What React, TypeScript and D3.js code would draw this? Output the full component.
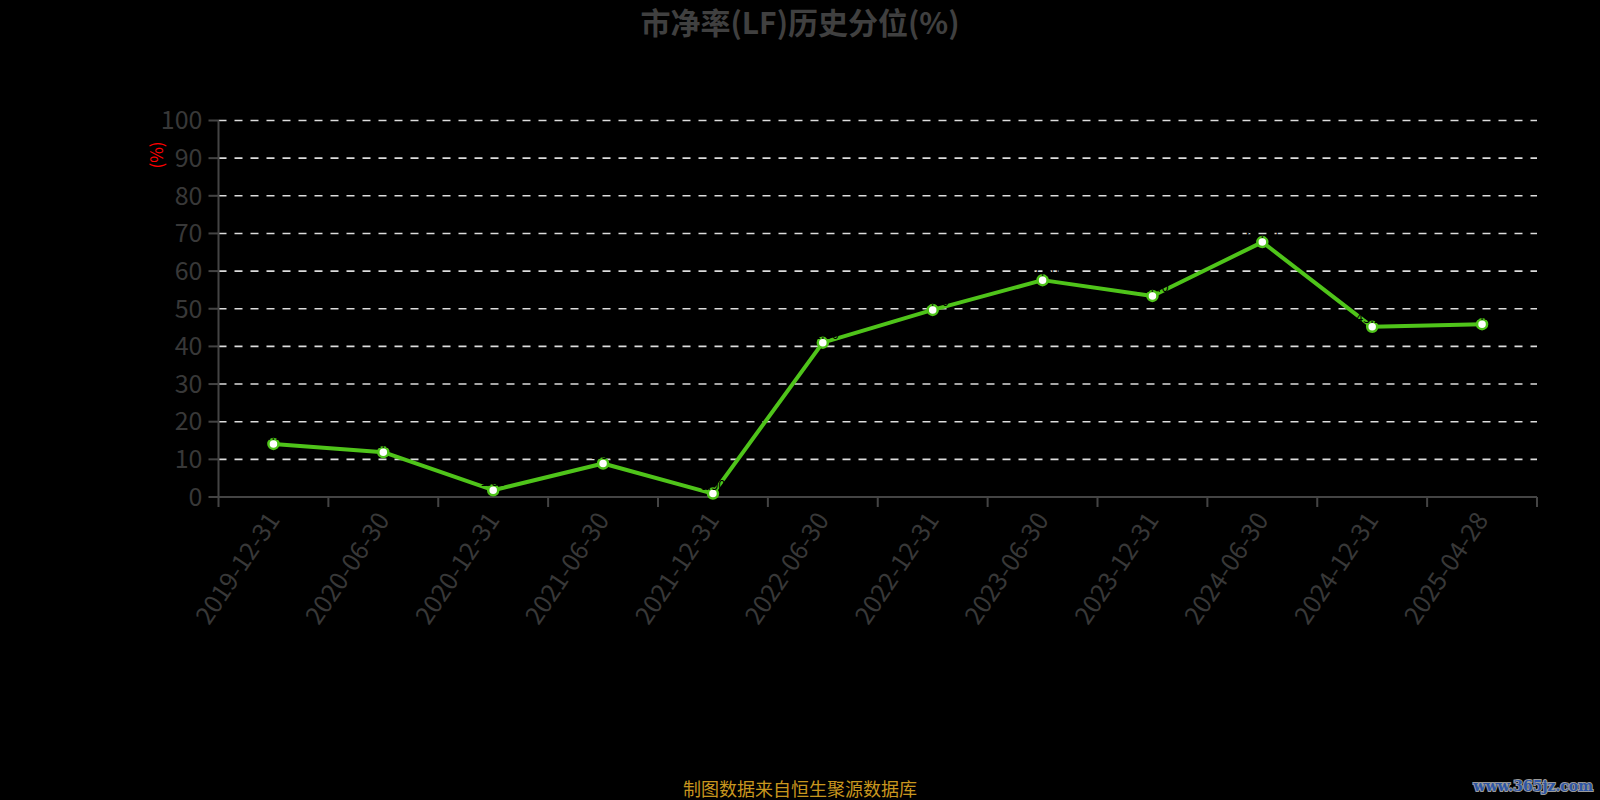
import React from "react";
import * as d3 from "d3";

const categories = [
  "2019-12-31", "2020-06-30", "2020-12-31", "2021-06-30", "2021-12-31", "2022-06-30",
  "2022-12-31", "2023-06-30", "2023-12-31", "2024-06-30", "2024-12-31", "2025-04-28",
];
const values = [14.1, 11.9, 1.8, 8.9, 0.9, 41.0, 49.7, 57.6, 53.4, 67.7, 45.2, 45.9];
const yTicks = [0, 10, 20, 30, 40, 50, 60, 70, 80, 90, 100];
const titleText = "市净率(LF)历史分位(%)";
const yAxisName = "(%)";
const footerText = "制图数据来自恒生聚源数据库";
const watermarkText = "www.365jz.com";

const W = 1600;
const H = 800;
const left = 218.5;
const right = 1537;
const top = 120.5;
const bottom = 497;
const FONT = "'Noto Sans CJK SC', 'Noto Sans', sans-serif";

export default function App() {
  const x = d3.scaleBand<string>().domain(categories).range([left, right]);
  const y = d3.scaleLinear().domain([0, 100]).range([bottom, top]);
  const cx = (c: string) => (x(c) as number) + x.bandwidth() / 2;
  const line = d3
    .line<number>()
    .x((_, i) => cx(categories[i]))
    .y((v) => y(v));
  const tickXs = [...categories.map((c) => x(c) as number), right];

  return (
    <div>
      <style>{`body{margin:0;background:#000;}`}</style>
      <svg width={W} height={H} style={{ display: "block", background: "#000" }} fontFamily={FONT}>
        <rect x={0} y={0} width={W} height={H} fill="#000" />
        <text x={800} y={34} textAnchor="middle" fontSize={30} fontWeight="bold" fill="#404040">
          {titleText}
        </text>

        {/* grid */}
        {yTicks.filter((t) => t > 0).map((t) => (
          <line key={"g" + t} x1={left} x2={right} y1={y(t)} y2={y(t)} stroke="#dcdcdc" strokeWidth={1.6} strokeDasharray="8,8" />
        ))}

        {/* y axis */}
        <line x1={left} x2={left} y1={top} y2={bottom} stroke="#444" strokeWidth={2} />
        {yTicks.map((t) => (
          <g key={"y" + t}>
            <line x1={left - 10} x2={left} y1={y(t)} y2={y(t)} stroke="#444" strokeWidth={2} />
            <text x={left - 16} y={y(t)} dy="0.35em" textAnchor="end" fontSize={25} fill="#383838">
              {t}
            </text>
          </g>
        ))}
        <text transform={`translate(157,155) rotate(-90)`} textAnchor="middle" dy="0.35em" fontSize={17} fill="#ff0000">
          {yAxisName}
        </text>

        {/* x axis */}
        <line x1={left} x2={right} y1={bottom} y2={bottom} stroke="#444" strokeWidth={2} />
        {tickXs.map((tx, i) => (
          <line key={"xt" + i} x1={tx} x2={tx} y1={bottom} y2={bottom + 10} stroke="#444" strokeWidth={2} />
        ))}
        {categories.map((c) => (
          <text key={"xl" + c} transform={`translate(${cx(c)},${bottom + 18}) rotate(-56)`} textAnchor="end" dy="0.35em" fontSize={25} fill="#383838">
            {c}
          </text>
        ))}

        {/* line */}
        <path d={line(values) || ""} fill="none" stroke="#4fc41a" strokeWidth={4} strokeLinejoin="round" />
        {values.map((v, i) => (
          <circle key={"p" + i} cx={cx(categories[i])} cy={y(v)} r={5} fill="#fff" stroke="#4fc41a" strokeWidth={2.5} />
        ))}
        {values.map((v, i) => (
          <text key={"lb" + i} x={cx(categories[i])} y={y(v) - 4} textAnchor="middle" fontSize={13} fill="#000">
            {v.toFixed(2)}
          </text>
        ))}

        <text x={800} y={796} textAnchor="middle" fontSize={18} fill="#c8961e">
          {footerText}
        </text>
        <text x={1593} y={791} textAnchor="end" fontSize={14} fontWeight="bold" fontFamily="'DejaVu Serif', serif" fill="#2d55a5" stroke="#9a9a9a" strokeWidth={2} paintOrder="stroke">
          {watermarkText}
        </text>
      </svg>
    </div>
  );
}
